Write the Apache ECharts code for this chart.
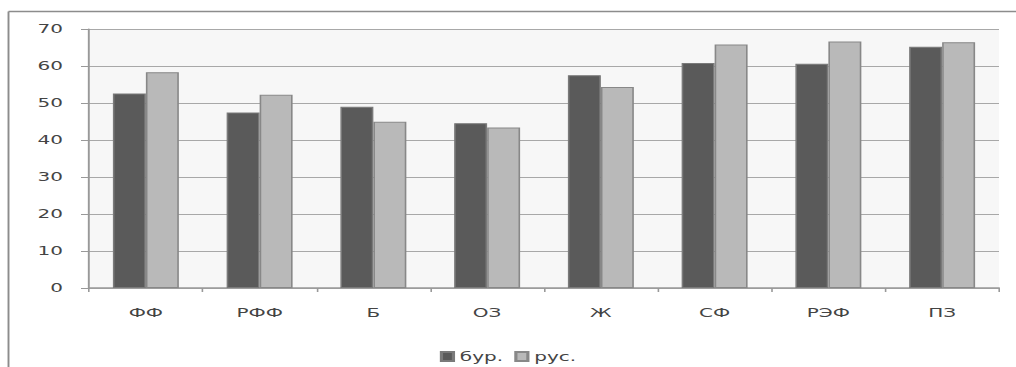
<!DOCTYPE html>
<html>
<head>
<meta charset="utf-8">
<script src="https://cdn.jsdelivr.net/npm/echarts@6/dist/echarts.min.js"></script>
<style>
  html, body { margin: 0; padding: 0; background: #fff; overflow: hidden; }
  /* The chart is laid out narrower and stretched sideways, giving the wide lettering */
  #chart { width: 635px; height: 367px; transform: scaleX(1.6); transform-origin: 0 0; }
</style>
</head>
<body>
<div id="chart"></div>
<script>
// Categories and the two series of values
const categories = ['ФФ', 'РФФ', 'Б', 'ОЗ', 'Ж', 'СФ', 'РЭФ', 'ПЗ'];
const burValues = [52.6, 47.4, 49.0, 44.5, 57.5, 60.8, 60.6, 65.2];
const rusValues = [58.3, 52.2, 44.9, 43.4, 54.3, 65.8, 66.6, 66.4];
const seriesNames = ['бур.', 'рус.'];

const SX = 1.6; // horizontal stretch applied by the stylesheet
const chart = echarts.init(document.getElementById('chart'), null, { renderer: 'svg' });

const textStyle = { fontFamily: 'DejaVu Sans', fontSize: 12.5, color: '#444' };

chart.setOption({
  animation: false,
  backgroundColor: '#fff',
  graphic: [
    { type: 'line', shape: { x1: 8.5 / SX, y1: 11.5, x2: 1016 / SX, y2: 11.5 }, style: { stroke: '#8c8c8c', lineWidth: 1.5 }, silent: true },
    { type: 'line', shape: { x1: 8.5 / SX, y1: 11.5, x2: 8.5 / SX, y2: 367 }, style: { stroke: '#8c8c8c', lineWidth: 1.2 }, silent: true }
  ],
  grid: {
    left: 89 / SX, right: 17 / SX, top: 29, bottom: 79,
    show: true, backgroundColor: '#f7f7f7', borderWidth: 0
  },
  legend: {
    data: seriesNames,
    top: 345,
    left: 'center',
    itemWidth: 7.5, itemHeight: 9, itemGap: 7,
    icon: 'rect',
    textStyle: Object.assign({}, textStyle, { padding: [0, 0, 0, -1] })
  },
  xAxis: {
    type: 'category',
    data: categories,
    axisLine: { lineStyle: { color: '#999', width: 1.5 } },
    axisTick: { show: true, length: 4, lineStyle: { color: '#999' } },
    axisLabel: Object.assign({ margin: 18 }, textStyle)
  },
  yAxis: {
    type: 'value',
    min: 0, max: 70, interval: 10,
    axisLine: { show: true, lineStyle: { color: '#999', width: 1.2 } },
    axisTick: { show: true, length: 8 / SX, lineStyle: { color: '#999' } },
    axisLabel: Object.assign({ margin: 26 / SX }, textStyle),
    splitLine: { lineStyle: { color: '#a8a8a8', width: 1 } }
  },
  series: [
    {
      name: seriesNames[0], type: 'bar', data: burValues,
      barGap: '0%', barCategoryGap: '42%',
      itemStyle: { color: '#5a5a5a', borderColor: '#7a7a7a', borderWidth: 1 }
    },
    {
      name: seriesNames[1], type: 'bar', data: rusValues,
      barGap: '0%', barCategoryGap: '42%',
      itemStyle: { color: '#b9b9b9', borderColor: '#888', borderWidth: 1 }
    }
  ]
});
</script>
</body>
</html>
